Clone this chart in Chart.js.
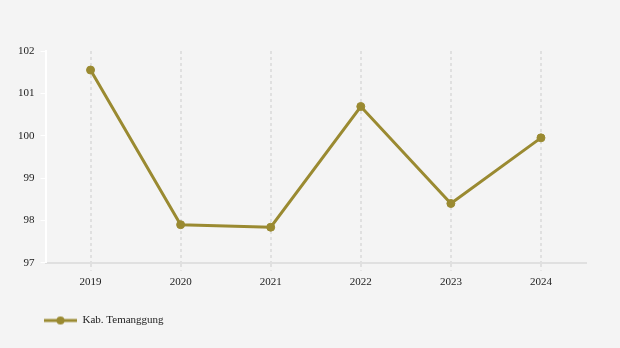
<!DOCTYPE html>
<html>
<head>
<meta charset="utf-8">
<script src="https://cdn.jsdelivr.net/npm/chart.js@4"></script>
<style>
  html, body { margin: 0; padding: 0; background: #f4f4f4; }
  #wrap { width: 620px; height: 348px; }
</style>
</head>
<body>
<div id="wrap"><canvas id="lineChart" width="620" height="348"></canvas></div>
<script>
// data
const years = ['2019', '2020', '2021', '2022', '2023', '2024'];
const temanggung = [101.55, 97.9, 97.84, 100.69, 98.4, 99.95];
const seriesName = 'Kab. Temanggung';
const lineColor = '#9a8a31';
const textFont = { family: 'Liberation Serif', size: 11 };

// legend marker: line with a dot in the middle (left part left blank as indent)
const marker = document.createElement('canvas');
marker.width = 44; marker.height = 10;
const mctx = marker.getContext('2d');
mctx.strokeStyle = lineColor;
mctx.lineWidth = 3;
mctx.beginPath();
mctx.moveTo(11, 5); mctx.lineTo(44, 5);
mctx.stroke();
mctx.fillStyle = lineColor;
mctx.beginPath();
mctx.arc(27.5, 5, 4, 0, Math.PI * 2);
mctx.fill();

const ctx = document.getElementById('lineChart').getContext('2d');
new Chart(ctx, {
  type: 'line',
  data: {
    labels: years,
    datasets: [{
      label: seriesName,
      data: temanggung,
      borderColor: lineColor,
      backgroundColor: lineColor,
      borderWidth: 3,
      pointRadius: 4,
      pointBorderWidth: 1,
      pointHoverRadius: 4,
      pointStyle: 'circle',
      tension: 0
    }]
  },
  options: {
    responsive: false,
    animation: false,
    layout: { padding: { top: 51, left: 12, right: 34, bottom: 12 } },
    plugins: {
      tooltip: { enabled: false },
      legend: {
        position: 'bottom',
        align: 'start',
        labels: {
          usePointStyle: true,
          pointStyle: marker,
          pointStyleWidth: 44,
          boxHeight: 10,
          color: '#222',
          font: textFont,
          padding: 21,
          generateLabels: chart => chart.data.datasets.map((ds, i) => ({
            text: ds.label,
            pointStyle: marker,
            fontColor: '#222',
            datasetIndex: i,
            hidden: false,
            lineWidth: 0
          }))
        }
      }
    },
    scales: {
      x: {
        offset: true,
        grid: {
          color: '#e0e0e0',
          lineWidth: 2,
          tickLength: 8,
          tickBorderDash: [3, 3],
          offset: false
        },
        border: { color: '#e0e0e0', width: 2, dash: [3, 3] },
        ticks: {
          color: '#222',
          font: textFont,
          padding: 5
        }
      },
      y: {
        min: 97,
        max: 102,
        ticks: {
          stepSize: 1,
          color: '#222',
          font: textFont,
          padding: 6
        },
        grid: {
          drawOnChartArea: false,
          drawTicks: true,
          tickColor: '#ffffff',
          tickLength: 5
        },
        border: { color: '#ffffff', width: 2 }
      }
    }
  }
});
</script>
</body>
</html>
